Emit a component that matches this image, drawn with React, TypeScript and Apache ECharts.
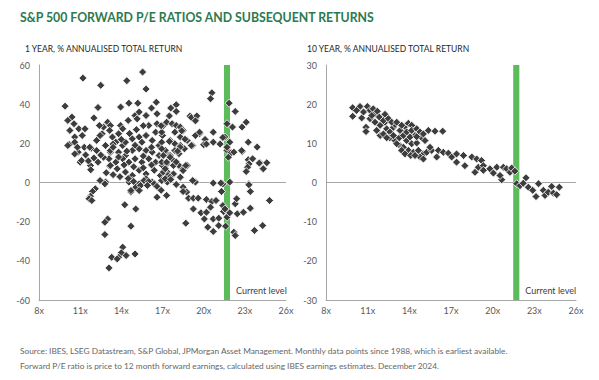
import React, { useEffect, useRef } from "react";
import * as echarts from "echarts";

const titleText = "S&P 500 FORWARD P/E RATIOS AND SUBSEQUENT RETURNS";
const leftSubtitle = "1 YEAR, % ANNUALISED TOTAL RETURN";
const rightSubtitle = "10 YEAR, % ANNUALISED TOTAL RETURN";
const sourceLines = [
  "Source: IBES, LSEG Datastream, S&P Global, JPMorgan Asset Management. Monthly data points since 1988, which is earliest available.",
  "Forward P/E ratio is price to 12 month forward earnings, calculated using IBES earnings estimates. December 2024.",
];
const currentLabel = "Current level";
const currentPE = [21.48, 21.92];

const xMin = 8;
const xMax = 26;
const xInterval = 3;
const leftY = { min: -60, max: 60, interval: 20 };
const rightY = { min: -30, max: 30, interval: 10 };

// [forward P/E, 1-year annualised total return %]
const oneYearReturns: number[][] = [
  [11.2,53.3],[12.5,49.6],[14.4,52],[15.55,56.4],[15.8,47.7],[9.9,39],[12.3,38.3],[13.95,38.5],[14.55,40.5],[15.2,40.5],
  [16.55,41],[12.0,33],[10.4,33.4],[10.1,31.7],[10.55,30],[10.9,27.4],[10.25,26.6],[10.2,19.4],[10.6,23.2],[10.6,20.6],
  [11.15,24],[11.3,18],[10.85,15.5],[11.4,14.1],[11.8,17.5],[11.0,10.4],[11.75,8.7],[12.3,10.4],[12.6,24.9],[12.7,28.3],
  [13.0,30.8],[12.4,29.1],[13.2,29.1],[13.15,26.6],[13.35,23.2],[13.8,24.9],[13.95,29.1],[14.1,27.4],[14.5,31.7],[15.0,34.2],
  [15.3,36],[15.15,32.5],[15.8,34.2],[16.6,35.1],[16.0,29.1],[16.6,30],[13.6,20.6],[14.1,18.9],[14.3,20.6],[14.8,22.3],
  [15.3,23.2],[15.5,20.6],[15.8,24],[16.25,21.5],[16.5,25.7],[17.0,24],[16.75,18.9],[12.85,18.9],[13.2,15.5],[13.8,15.5],
  [14.3,13.8],[14.8,16.4],[15.3,17.2],[15.8,16.4],[16.25,15.5],[16.75,13.8],[17.2,15.5],[13.1,12.1],[13.6,10.4],[14.1,12.1],
  [14.55,10.4],[15.0,12.1],[15.5,10.4],[16.0,12.1],[16.5,10.4],[17.0,8.7],[13.15,8.4],[13.7,7.0],[14.3,5.3],[14.8,3.6],
  [15.3,6.2],[15.8,4.4],[16.4,6.2],[16.85,3.6],[17.35,5.3],[12.85,0.2],[14.8,1.0],[15.3,-0.7],[16.25,0.2],[17.0,1.0],
  [15.8,1.9],[11.1,11.2],[11.77,6.5],[12.45,1.0],[12.8,-0.7],[13.2,8.7],[10.6,14.6],[10.8,18.0],[10.1,18.9],[11.35,27.4],
  [11.7,18.0],[12.2,21.5],[12.45,24],[12.2,16.3],[12.7,12.9],[13.2,16.3],[13.4,19.6],
  [12.1,-3.2],[11.9,-4.6],[11.75,-7.0],[11.65,-8.3],[11.85,-9.2],[14.7,-4.9],[14.25,-11.4],[15.05,-13.5],[13.0,-18.6],[12.8,-20.3],
  [14.7,-22.3],[12.8,-26.6],[14.1,-33.0],[14.0,-35.9],[14.35,-37.3],[13.8,-38.2],[15.0,-36.5],[13.3,-38.2],[13.7,-39.0],[13.1,-43.6],
  [16.6,-7.5],[17.3,-6.6],[14.55,0.2],[14.9,0.5],[15.65,1.0],[16.0,0.5],[16.4,-0.7],[17.35,0.2],[15.05,-2.4],[15.4,-1.5],
  [14.7,-4.1],[15.3,-4.1],
  [20.6,45.8],[20.5,42.8],[21.85,40.5],[22.3,36.3],[17.6,38],[18.0,39.7],[18.0,36.3],[19.0,33.9],[19.4,32.5],[20.7,25.7],
  [19.2,18.9],[19.7,24.9],[19.4,24],[20.1,22],[20.0,19.3],[20.7,20.6],[21.2,19.8],[21.55,23.2],[21.9,20.6],[21.7,16.4],
  [22.0,15.2],[21.7,30],[22.1,28.3],[22.8,28.3],[23.1,30.8],[23.25,20.6],[23.9,18.1],[22.8,15.8],[23.25,11.6],[23.3,9.5],
  [23.2,7.8],[23.1,5.6],[24.1,10.1],[24.6,10.1],[24.3,7.0],[21.4,-0.7],[21.9,0.2],[23.3,-0.7],[19.4,0.2],
  [17.06,29.1],[17.3,30.8],[17.7,30],[18.0,29.1],[18.3,28.3],[18.5,26.6],[17.9,25.7],[18.3,23.2],[17.55,21.5],[17.9,19.8],
  [18.3,18.9],[18.8,21.5],[18.6,17.2],[18.2,14.7],[17.2,16.4],[17.55,13.8],[17.8,11.2],[17.3,9.5],[18.2,8.7],[18.5,7.0],
  [17.06,5.3],[17.8,4.4],[18.3,2.7],[18.8,8.7],[16.94,25.7],[16.94,20.6],[16.94,17.2],[17.06,13.8],[16.94,10.4],[17.2,7.0],
  [17.4,3.6],[16.94,1.0],[18.4,26.4],[18.64,22.1],[18.28,18.0],[17.9,16.3],[17.55,12.9],[17.3,10.4],[17.8,8.7],[18.5,6.1],
  [18.7,8.7],[19.1,33.2],[19.5,34],[19.4,31.5],[19.7,25.7],[19.1,18.9],[20.2,19.6],[21.2,19.6],[21.4,23],[21.7,18.0],
  [21.8,12.9],[22.2,15.5],[22.77,16.3],[23.57,12.1],[24.05,9.9],[24.35,7.0],[24.8,-9.2],[19.2,1.0],[18.5,-2.4],[18.76,-4.9],
  [20.7,-0.3],[21.25,-0.3],[23.3,-1.2],[23.4,-4.6],[17.55,2.7],[17.2,1.9],[18.5,-4.6],[21.3,-4.6],
  [18.9,-8.0],[19.25,-8.0],[19.6,-8.0],[20.2,-8.7],[20.6,-9.7],[20.9,-9.2],[20.5,-12.6],[19.25,-13.5],[19.8,-15.5],[20.2,-15.2],
  [20.05,-18.6],[20.7,-18.6],[21.1,-18.2],[21.4,-11.8],[21.45,-14.8],[21.55,-13.5],[21.7,-17.7],[21.9,-15.5],[22.3,-10.9],[22.4,-8.3],
  [22.45,-16.0],[22.9,-15.2],[23.4,-13.1],[21.1,-22.0],[21.6,-22.3],[20.3,-22.8],[20.7,-25.0],[22.2,-25.4],[22.3,-27.1],[18.7,-20.8],
  [23.7,-24.5],[24.3,-22.0],
  [14.0,22],[14.6,25],[15.1,27],[15.6,29],[13.4,18],[14.4,16],[15.0,19],[15.6,13.5],[16.2,18],[13.8,13],
  [14.2,9],[14.9,8],[15.6,7.5],[16.2,9],[13.9,3],[14.5,2],[15.9,-1.5],[16.6,-2],[13.4,4],[12.9,5],
  [12.5,14],[12.0,12.5],[11.6,11],[16.9,29],[17.5,21],[18.1,16],[18.0,10.5],[17.6,1.5],[18.0,-1],[16.9,-4],
  [17.5,34],[16.2,38],
];

// [forward P/E, 10-year annualised total return %]
const tenYearReturns: number[][] = [
  [9.92,19.1],[9.92,16.9],[10.45,19.4],[10.57,16.5],[10.88,14.1],[10.88,13.0],[10.98,19.4],[11.17,18.4],[11.4,18.8],[11.53,17.5],
  [11.7,18.2],[11.17,16.3],[11.53,15.4],[11.84,16.7],[12.25,17.4],[11.9,14.6],[12.25,15.4],[11.65,13.3],[11.9,12.0],[12.37,13.7],
  [12.6,12.9],[12.85,14.1],[12.97,14.8],[12.6,11.4],[12.97,10.7],[13.33,9.4],[13.28,11.4],[13.57,12.0],[13.33,13.3],[13.69,14.3],
  [13.93,15.1],[14.17,14.6],[13.81,12.9],[14.17,13.3],[14.53,13.7],[14.41,12.0],[14.77,12.9],[14.89,11.4],[13.81,10.7],[14.17,9.9],
  [14.53,10.1],[13.93,8.2],[14.29,7.7],[14.65,8.2],[15.01,7.3],[14.77,6.5],[15.25,7.7],[15.37,13.3],[15.85,13.1],[16.4,13.1],
  [15.61,8.2],[16.09,8.2],[15.97,6.5],[16.45,7.7],[16.81,7.5],[17.05,6.5],[17.4,5.2],[17.4,7.3],[17.9,6.9],[18.0,4.3],
  [18.5,6.5],[18.85,6.0],[19.2,5.6],[18.73,2.6],[18.97,3.9],[19.33,4.3],[19.33,3.1],[19.8,3.5],[20.05,2.4],[20.3,3.9],
  [20.77,3.9],[20.65,0.7],[20.53,1.8],[21.0,3.5],[21.25,2.6],[21.37,3.7],[21.6,2.9],[21.73,-0.3],[21.97,-0.8],[22.2,-0.2],
  [22.4,1.2],[22.57,-1.2],[22.88,-2.0],[23.12,-3.6],[23.3,-0.3],[23.65,-2.0],[23.77,-3.3],[24.0,-2.5],[24.25,-1.0],[24.37,-2.7],
  [24.61,-3.1],[24.8,-1.2],
  [10.2,18.4],[10.7,18.0],[11.3,17.1],[12.13,15.8],[12.49,16.3],[12.73,15.4],[13.09,15.4],[13.45,14.6],[12.13,12.4],[12.37,11.4],
  [12.85,12.0],[13.09,9.9],[13.57,9.0],[14.05,11.6],[14.53,11.7],[15.01,12.4],[15.13,10.7],[15.49,9.0],[13.45,8.2],[13.69,7.3],
  [14.1,6.9],[14.41,6.9],[15.01,6.0],
];

const axisGrey = "#a6a6a6";
const labelGrey = "#595959";
const markerColor = "#3d3d3d";
const barGreen = "#5cbb5a";
const fontFamily = "Lato, 'Noto Sans', sans-serif";

function makeSeries(data: number[][], idx: number) {
  return {
    type: "scatter",
    xAxisIndex: idx,
    yAxisIndex: idx,
    data,
    symbol: "diamond",
    symbolSize: 8,
    itemStyle: { color: markerColor, borderColor: "#ffffff", borderWidth: 0.8, opacity: 1 },
    z: 3,
    markLine: {
      silent: true,
      symbol: "none",
      label: { show: false },
      lineStyle: { color: axisGrey, width: 1, type: "solid" },
      data: [{ yAxis: 0 }],
      z: 1,
    },
    markArea: {
      silent: true,
      itemStyle: { color: barGreen, opacity: 1 },
      label: {
        show: true,
        position: ["100%", "100%"],
        align: "left",
        verticalAlign: "bottom",
        offset: [6, -5],
        color: "#404040",
        fontSize: 9,
        fontFamily,
        formatter: currentLabel,
      },
      data: [[{ xAxis: currentPE[0] }, { xAxis: currentPE[1] }]],
      z: 2,
    },
  };
}

function xAxisCfg(idx: number) {
  return {
    type: "value",
    gridIndex: idx,
    min: xMin,
    max: xMax,
    interval: xInterval,
    axisLine: { show: true, onZero: false, lineStyle: { color: axisGrey, width: 1 } },
    axisTick: { show: false },
    splitLine: { show: false },
    axisLabel: { formatter: "{value}x", color: labelGrey, fontSize: 9, fontFamily, margin: 6 },
  };
}

function yAxisCfg(idx: number, cfg: { min: number; max: number; interval: number }) {
  return {
    type: "value",
    gridIndex: idx,
    min: cfg.min,
    max: cfg.max,
    interval: cfg.interval,
    axisLine: { show: true, lineStyle: { color: axisGrey, width: 1 } },
    axisTick: { show: false },
    splitLine: { show: false },
    axisLabel: { color: labelGrey, fontSize: 9, fontFamily, margin: 9 },
  };
}

export default function App() {
  const ref = useRef<HTMLDivElement>(null);
  useEffect(() => {
    if (!ref.current) return;
    const chart = echarts.init(ref.current, undefined, { renderer: "svg" });
    chart.setOption({
      animation: false,
      backgroundColor: "#ffffff",
      title: [
        {
          text: titleText,
          left: 15,
          top: 6,
          textStyle: { color: "#2b7a4e", fontSize: 12.3, fontWeight: "bold", fontFamily },
        },
        {
          text: leftSubtitle,
          left: 20,
          top: 39,
          textStyle: { color: "#262626", fontSize: 8.5, fontWeight: "normal", fontFamily },
        },
        {
          text: rightSubtitle,
          left: 302,
          top: 39,
          textStyle: { color: "#262626", fontSize: 8.5, fontWeight: "normal", fontFamily },
        },
        {
          text: sourceLines.join("\n"),
          left: 15,
          top: 338,
          textStyle: { color: "#666666", fontSize: 8.3, fontWeight: "normal", fontFamily, lineHeight: 15.5 },
        },
      ],
      grid: [
        { left: 39, top: 65, width: 247, height: 235 },
        { left: 326, top: 65, width: 250, height: 235 },
      ],
      xAxis: [xAxisCfg(0), xAxisCfg(1)],
      yAxis: [yAxisCfg(0, leftY), yAxisCfg(1, rightY)],
      series: [makeSeries(oneYearReturns, 0), makeSeries(tenYearReturns, 1)],
    });
    return () => chart.dispose();
  }, []);
  return (
    <div
      ref={ref}
      style={{ position: "absolute", left: 0, top: 0, width: 599, height: 380 }}
    />
  );
}
